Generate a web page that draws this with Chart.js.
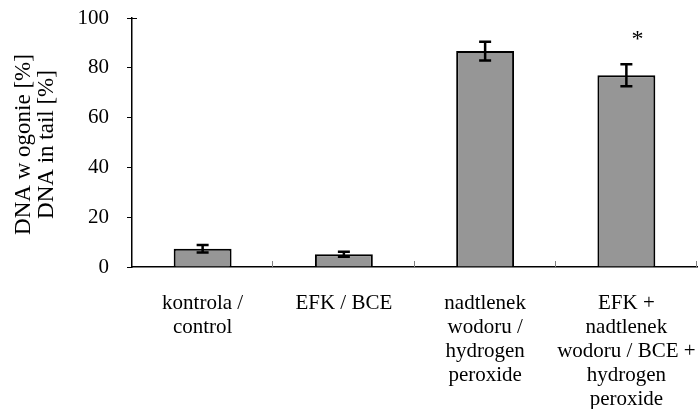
<!DOCTYPE html>
<html>
<head>
<meta charset="utf-8">
<script src="https://cdn.jsdelivr.net/npm/chart.js@4/dist/chart.umd.min.js"></script>
<style>
  html, body { margin: 0; padding: 0; background: #fff; font-family: "Liberation Serif", serif; }
  #wrap { width: 699px; height: 409px; }
</style>
</head>
<body>
<div id="wrap"><canvas id="c" width="699" height="409"></canvas></div>
<script>
// Comet assay: share of DNA in the comet tail per treatment group
const categories = [
  ['kontrola /', 'control'],
  ['EFK / BCE'],
  ['nadtlenek', 'wodoru /', 'hydrogen', 'peroxide'],
  ['EFK +', 'nadtlenek', 'wodoru / BCE +', 'hydrogen', 'peroxide']
];
const tailDNA = [7.3, 5.1, 86.7, 77.0];
const tailDNAErr = [1.5, 1.0, 3.8, 4.4];
const significant = [false, false, false, true];
const yTicks = [0, 20, 40, 60, 80, 100];
const yTitle = ['DNA w ogonie [%]', 'DNA in tail [%]'];

const FONT = 'Liberation Serif';
Chart.defaults.font.family = FONT;
Chart.defaults.color = '#000';

// error bars, category separator ticks, significance marks and axis title
const extras = {
  id: 'extras',
  afterDatasetsDraw(chart) {
    const { ctx, scales: { y }, chartArea } = chart;
    const meta = chart.getDatasetMeta(0);
    ctx.save();

    // short marks between categories, pointing up from the x axis
    ctx.strokeStyle = '#808080';
    ctx.lineWidth = 1;
    const n = categories.length;
    const step = (chartArea.right - chartArea.left) / n;
    for (let i = 1; i <= n; i++) {
      const px = Math.round(chartArea.left + i * step) - 0.5;
      ctx.beginPath();
      ctx.moveTo(px, chartArea.bottom);
      ctx.lineTo(px, chartArea.bottom - 6);
      ctx.stroke();
    }

    // small mark at the top of the value axis
    ctx.strokeStyle = '#000';
    ctx.lineWidth = 1;
    const yTop = y.getPixelForValue(yTicks[yTicks.length - 1]) + 0.5;
    ctx.beginPath();
    ctx.moveTo(chartArea.left, yTop);
    ctx.lineTo(chartArea.left + 5, yTop);
    ctx.stroke();

    // error bars
    ctx.lineWidth = 2.5;
    meta.data.forEach((bar, i) => {
      const hi = y.getPixelForValue(tailDNA[i] + tailDNAErr[i]);
      const lo = y.getPixelForValue(tailDNA[i] - tailDNAErr[i]);
      const cx = bar.x;
      ctx.beginPath();
      ctx.moveTo(cx, hi); ctx.lineTo(cx, lo);
      ctx.moveTo(cx - 6, hi); ctx.lineTo(cx + 6, hi);
      ctx.moveTo(cx - 6, lo); ctx.lineTo(cx + 6, lo);
      ctx.stroke();
    });

    // significance asterisks
    ctx.fillStyle = '#000';
    ctx.font = '24px "' + FONT + '"';
    ctx.textAlign = 'center';
    ctx.textBaseline = 'middle';
    meta.data.forEach((bar, i) => {
      if (!significant[i]) return;
      const top = y.getPixelForValue(tailDNA[i] + tailDNAErr[i]);
      ctx.fillText('*', bar.x + 11, top - 25);
    });

    // rotated two-line y-axis title
    ctx.font = '23px "' + FONT + '"';
    ctx.translate(35, (chartArea.top + chartArea.bottom) / 2 + 2);
    ctx.rotate(-Math.PI / 2);
    ctx.fillText(yTitle[0], 0, -11);
    ctx.fillText(yTitle[1], 0, 12);
    ctx.restore();
  }
};

function noEdgePadding(s) {
  s.paddingLeft = 0;
  s.paddingRight = 0;
  s.paddingTop = 0;
  s.paddingBottom = 0;
}

function draw() {
  new Chart(document.getElementById('c'), {
    type: 'bar',
    data: {
      labels: categories,
      datasets: [{
        data: tailDNA,
        backgroundColor: '#969696',
        borderColor: '#000',
        borderWidth: 2,
        barPercentage: 0.41,
        categoryPercentage: 1
      }]
    },
    options: {
      responsive: false,
      animation: false,
      devicePixelRatio: 1,
      layout: { padding: { top: 18, right: 2, left: 0, bottom: 0 } },
      plugins: { legend: { display: false }, tooltip: { enabled: false } },
      scales: {
        x: {
          grid: { display: false },
          border: { display: true, color: '#000', width: 1.5 },
          ticks: {
            color: '#000',
            padding: 16,
            maxRotation: 0,
            autoSkip: false,
            font: { family: FONT, size: 21, lineHeight: 1.15 }
          },
          afterFit(s) { s.height = 142; noEdgePadding(s); }
        },
        y: {
          min: 0,
          max: 100,
          afterBuildTicks(s) { s.ticks = yTicks.map(v => ({ value: v })); },
          grid: { drawOnChartArea: false, drawTicks: true, tickLength: 5, color: '#000' },
          border: { display: true, color: '#000', width: 1.5 },
          ticks: {
            color: '#000',
            padding: 18,
            font: { family: FONT, size: 21 }
          },
          afterFit(s) { s.width = 132; noEdgePadding(s); }
        }
      }
    },
    plugins: [extras]
  });
}

if (document.fonts && document.fonts.load) {
  Promise.all([
    document.fonts.load('21px "Liberation Serif"'),
    document.fonts.load('23px "Liberation Serif"')
  ]).then(draw, draw);
} else {
  draw();
}
</script>
</body>
</html>
